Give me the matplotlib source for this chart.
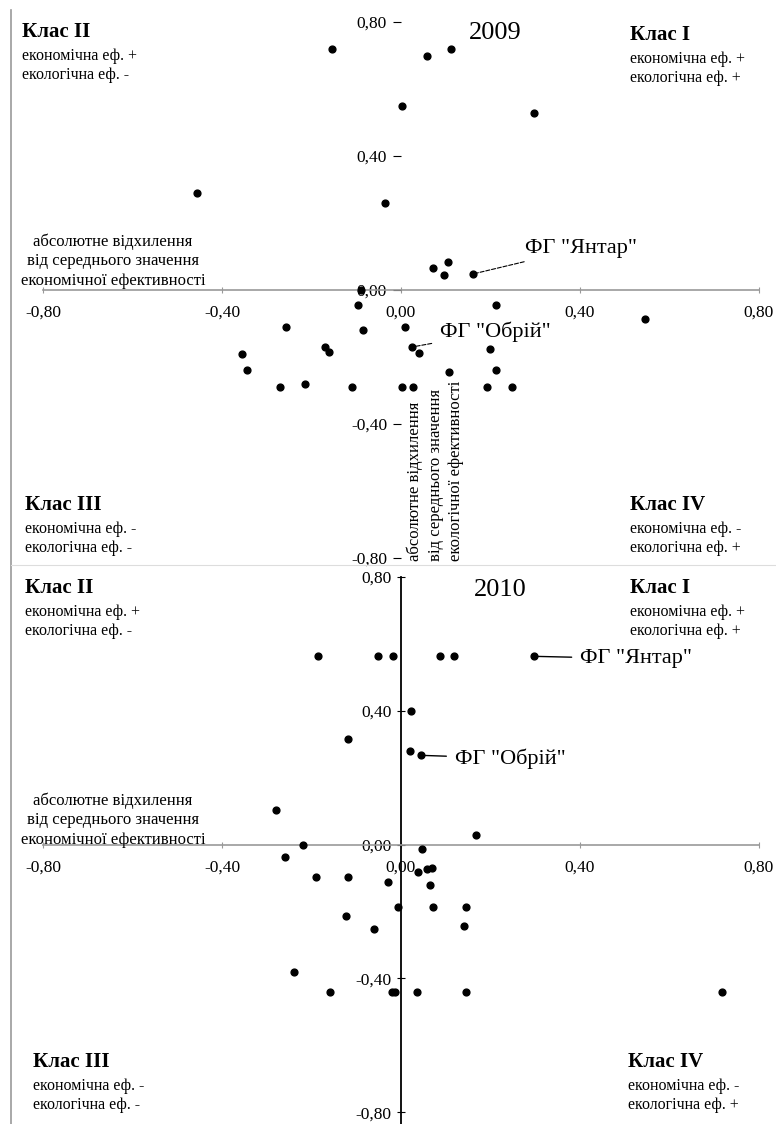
import matplotlib.pyplot as plt
from matplotlib.lines import Line2D

plt.rcParams['font.family'] = ['Liberation Serif', 'DejaVu Serif']

# 2009: deviations of economic (x) and ecological (y) efficiency
eco_2009 = [-0.154, -0.456, -0.036, 0.002, 0.058, 0.112, 0.297, 0.072, 0.096, 0.105,
            0.161, -0.096, -0.257, -0.085, -0.355, -0.344, -0.170, -0.160, -0.270, -0.215,
            -0.110, 0.212, 0.545, 0.009, 0.025, 0.040, 0.199, 0.212, 0.107, 0.002,
            0.027, 0.192, 0.248, -0.090]
env_2009 = [0.72, 0.29, 0.26, 0.55, 0.70, 0.72, 0.53, 0.066, 0.045, 0.084,
            0.048, -0.045, -0.11, -0.12, -0.19, -0.24, -0.17, -0.185, -0.29, -0.28,
            -0.29, -0.045, -0.087, -0.11, -0.17, -0.188, -0.176, -0.24, -0.245, -0.29,
            -0.29, -0.29, -0.29, 0.0]

# 2010
eco_2010 = [-0.185, -0.051, -0.018, 0.087, 0.118, 0.297, 0.022, -0.118, 0.020, 0.045,
            -0.280, 0.168, -0.220, 0.047, -0.260, -0.190, -0.118, 0.038, 0.058, 0.069,
            -0.029, 0.065, -0.006, 0.072, 0.145, -0.123, 0.141, -0.060, -0.240, -0.159,
            -0.020, -0.013, 0.036, 0.145, 0.717]
env_2010 = [0.563, 0.563, 0.563, 0.563, 0.563, 0.563, 0.40, 0.317, 0.28, 0.267,
            0.104, 0.03, 0.0, -0.012, -0.036, -0.098, -0.098, -0.083, -0.074, -0.07,
            -0.113, -0.12, -0.187, -0.187, -0.187, -0.213, -0.243, -0.252, -0.38, -0.44,
            -0.44, -0.44, -0.44, -0.44, -0.44]

# index of the named farms in each year
yantar = {2009: 10, 2010: 5}
obrii = {2009: 24, 2010: 9}

ticks = [-0.8, -0.4, 0.0, 0.4, 0.8]
tick_labels = ["-0,80", "-0,40", "0,00", "0,40", "0,80"]

W, H = 776, 1124
fig = plt.figure(figsize=(W / 100, H / 100), dpi=100)


def ftext(x, y, s, **kw):
    fig.text(x / W, 1 - y / H, s, **kw)


def setup(ax, ylim, yaxis_visible):
    ax.set_xlim(-0.896, 0.838)
    ax.set_ylim(*ylim)
    ax.patch.set_alpha(0)
    ax.spines['top'].set_visible(False)
    ax.spines['right'].set_visible(False)
    ax.spines['bottom'].set_position(('data', 0))
    ax.spines['bottom'].set_bounds(-0.8, 0.8)
    ax.spines['bottom'].set_color('#999999')
    ax.spines['bottom'].set_linewidth(1.2)
    ax.spines['left'].set_position(('data', 0))
    if yaxis_visible:
        ax.spines['left'].set_bounds(ylim[0], 0.8)
        ax.spines['left'].set_color('black')
        ax.spines['left'].set_linewidth(1.3)
    else:
        ax.spines['left'].set_color('none')
    ax.set_xticks(ticks)
    ax.set_xticklabels(tick_labels)
    ax.set_yticks(ticks)
    ax.set_yticklabels(tick_labels)
    ax.tick_params(axis='x', direction='inout', length=5, pad=8, labelsize=12.5,
                   color='#999999')
    ax.tick_params(axis='y', direction='out' if not yaxis_visible else 'inout',
                   length=6, pad=4, labelsize=12.5)


# top panel 2009
ax1 = fig.add_axes([0, 1 - 565 / H, 1, 565 / H])
setup(ax1, (-0.821, 0.866), False)
ax1.scatter(eco_2009, env_2009, s=24, color='black', zorder=3)
i = yantar[2009]
ax1.annotate('ФГ "Янтар"', xy=(eco_2009[i], env_2009[i]), xytext=(0.277, 0.125),
             fontsize=16, ha='left', va='center',
             arrowprops=dict(arrowstyle='-', linestyle='--', lw=0.8, color='black',
                             shrinkA=4, shrinkB=3))
i = obrii[2009]
ax1.annotate('ФГ "Обрій"', xy=(eco_2009[i], env_2009[i]), xytext=(0.087, -0.125),
             fontsize=16, ha='left', va='center',
             arrowprops=dict(arrowstyle='-', linestyle='--', lw=0.8, color='black',
                             shrinkA=4, shrinkB=3))
ax1.text(0.012, -0.81,
         "абсолютне відхилення\nвід середнього значення\nекологічної ефективності",
         rotation=90, ha='left', va='bottom', fontsize=12, linespacing=1.4)

# bottom panel 2010
ax2 = fig.add_axes([0, 0, 1, (H - 565) / H])
setup(ax2, (-0.835, 0.836), True)
ax2.scatter(eco_2010, env_2010, s=24, color='black', zorder=3)
i = yantar[2010]
ax2.annotate('ФГ "Янтар"', xy=(eco_2010[i], env_2010[i]), xytext=(0.40, 0.556),
             fontsize=16, ha='left', va='center',
             arrowprops=dict(arrowstyle='-', lw=1.0, color='black',
                             shrinkA=4, shrinkB=3))
i = obrii[2010]
ax2.annotate('ФГ "Обрій"', xy=(eco_2010[i], env_2010[i]), xytext=(0.12, 0.258),
             fontsize=16, ha='left', va='center',
             arrowprops=dict(arrowstyle='-', lw=1.0, color='black',
                             shrinkA=4, shrinkB=3))

# frame lines
fig.add_artist(Line2D([11 / W, 11 / W], [0, 1 - 10 / H], transform=fig.transFigure,
                      color='#999999', lw=1.2))
fig.add_artist(Line2D([11 / W, 1], [1 - 565 / H, 1 - 565 / H], transform=fig.transFigure,
                      color='#dddddd', lw=0.8))

# quadrant captions
quads = {
    "Клас I": ("економічна еф. +", "екологічна еф. +"),
    "Клас II": ("економічна еф. +", "екологічна еф. -"),
    "Клас III": ("економічна еф. -", "екологічна еф. -"),
    "Клас IV": ("економічна еф. -", "екологічна еф. +"),
}
places = [
    ("Клас II", 22, 32), ("Клас I", 630, 35), ("Клас III", 25, 505), ("Клас IV", 630, 505),
    ("Клас II", 25, 588), ("Клас I", 630, 588), ("Клас III", 33, 1062), ("Клас IV", 628, 1062),
]
for name, x, y in places:
    ftext(x, y, name, fontsize=15, fontweight='bold', ha='left', va='center')
    l1, l2 = quads[name]
    ftext(x, y + 24, l1, fontsize=11.5, ha='left', va='center')
    ftext(x, y + 43, l2, fontsize=11.5, ha='left', va='center')

ftext(495, 33, "2009", fontsize=19, ha='center', va='center')
ftext(500, 590, "2010", fontsize=19, ha='center', va='center')

hlabel = "абсолютне відхилення\nвід середнього значення\nекономічної ефективності"
ftext(113, 261, hlabel, fontsize=12, ha='center', va='center', linespacing=1.3)
ftext(113, 820, hlabel, fontsize=12, ha='center', va='center', linespacing=1.3)

fig.savefig('out.png', dpi=100)
